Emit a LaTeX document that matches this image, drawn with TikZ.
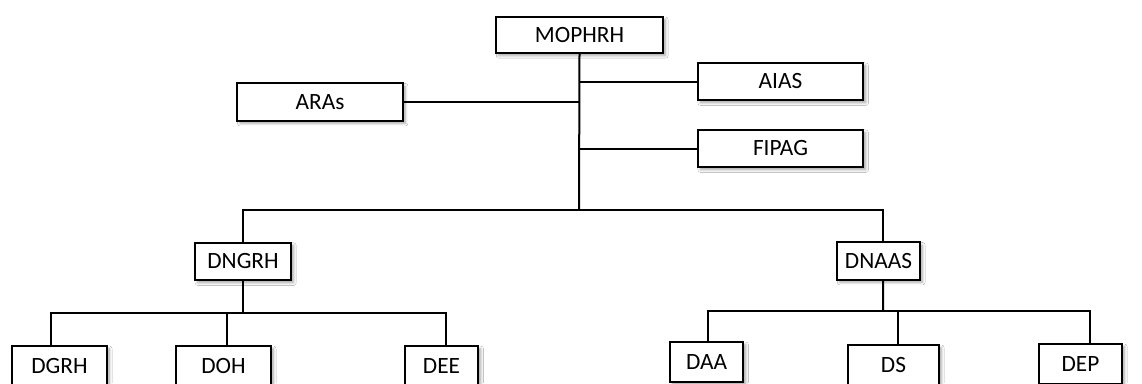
\documentclass[tikz,border=0pt]{standalone}
\usepackage{fontspec}
\setmainfont{Carlito}
\usetikzlibrary{shadows.blur}

\tikzset{
  box/.style={draw, line width=1.5pt, fill=white, inner sep=0pt,
    font=\fontsize{17.5}{20}\selectfont,
    blur shadow={shadow xshift=2pt, shadow yshift=-2pt, shadow blur steps=6, shadow opacity=35}},
  link/.style={line width=1.5pt}
}

\begin{document}
\begin{tikzpicture}[x=0.75pt, y=-0.75pt]
% \draw [help lines] (0,0) grid (1142,383) ;
\useasboundingbox (0,0) rectangle (1142,383) ;
\clip (0,0) rectangle (1142,383) ;
\fill [white] (0,0) rectangle (1142,383) ;

% top level
\node [box, minimum width=125pt, minimum height=27pt] (mophrh) at (579.5,35)    {MOPHRH} ;
\node [box, minimum width=124pt, minimum height=28pt] (aias)   at (780.5,81.5)  {AIAS} ;
\node [box, minimum width=124pt, minimum height=28pt] (fipag)  at (780.5,148.5) {FIPAG} ;
\node [box, minimum width=124pt, minimum height=28pt] (aras)   at (320,102)     {ARAs} ;

\coordinate (bus) at (579,210) ;

% directions
\node [box, minimum width=72pt, minimum height=28pt] (dngrh) at (243,261.5)   {DNGRH} ;
\node [box, minimum width=62pt, minimum height=28pt] (dnaas) at (878.5,261)   {DNAAS} ;

\coordinate (gbus) at (243,313) ;
\coordinate (abus) at (883,311) ;

% departments
\node [box, minimum width=71pt, minimum height=30pt] (dgrh) at (59.5,366)  {DGRH} ;
\node [box, minimum width=71pt, minimum height=30pt] (doh)  at (223.5,366) {DOH} ;
\node [box, minimum width=55pt, minimum height=30pt] (dee)  at (441.5,366) {DEE} ;
\node [box, minimum width=55pt, minimum height=30pt] (daa)  at (706.5,362) {DAA} ;
\node [box, minimum width=68pt, minimum height=30pt] (ds)   at (893.5,365) {DS} ;
\node [box, minimum width=62pt, minimum height=30pt] (dep)  at (1080.5,364) {DEP} ;

% links
\draw [link] (mophrh.south) -- (bus) ;
\draw [link] (aias.west) -- (aias.west -| bus) ;
\draw [link] (fipag.west) -- (fipag.west -| bus) ;
\draw [link] (aras.east) -- (aras.east -| bus) ;
\draw [link] (dngrh.north) |- (bus) -| ([xshift=3.4pt]dnaas.north) ;

\draw [link] (dngrh.south) -- (gbus) ;
\draw [link] ([xshift=-6.4pt]dgrh.north) |- (gbus) -| ([xshift=3.4pt]dee.north) ;
\draw [link] ([xshift=2.6pt]doh.north) -- ([xshift=2.6pt]doh.north |- gbus) ;

\draw [link] ([xshift=3.4pt]dnaas.south) -- (abus) ;
\draw [link] ([xshift=1.1pt]daa.north) |- (abus) -| ([xshift=7.1pt]dep.north) ;
\draw [link] ([xshift=3.4pt]ds.north) -- ([xshift=3.4pt]ds.north |- abus) ;
\end{tikzpicture}
\end{document}
